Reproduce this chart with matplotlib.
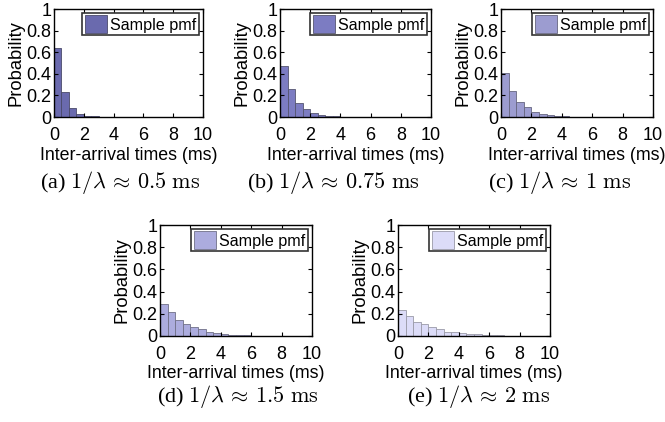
import numpy as np
import matplotlib
matplotlib.use('Agg')
import matplotlib.pyplot as plt

plt.rcParams['font.family'] = 'Liberation Sans'
plt.rcParams['mathtext.fontset'] = 'cm'

# Sample pmf values per 0.5 ms bin
bin_width = 0.5
pmf_a = [0.64, 0.23, 0.08, 0.03, 0.012, 0.005]
pmf_b = [0.47, 0.26, 0.13, 0.07, 0.04, 0.02, 0.01, 0.005]
pmf_c = [0.41, 0.24, 0.14, 0.09, 0.05, 0.03, 0.015, 0.01, 0.005, 0.003]
pmf_d = [0.29, 0.22, 0.14, 0.11, 0.08, 0.06, 0.04, 0.025, 0.02, 0.01,
         0.007, 0.005, 0.003]
pmf_e = [0.23, 0.18, 0.13, 0.11, 0.08, 0.06, 0.04, 0.035, 0.025, 0.02,
         0.015, 0.01, 0.007, 0.005]

captions = ['(a) $1/\\lambda \\,\\approx\\, 0.5\\ \\mathrm{ms}$',
            '(b) $1/\\lambda \\,\\approx\\, 0.75\\ \\mathrm{ms}$',
            '(c) $1/\\lambda \\,\\approx\\, 1\\ \\mathrm{ms}$',
            '(d) $1/\\lambda \\,\\approx\\, 1.5\\ \\mathrm{ms}$',
            '(e) $1/\\lambda \\,\\approx\\, 2\\ \\mathrm{ms}$']
colors = ['#6a6aae', '#7c7cc2', '#9c9cd0', '#acacde', '#dcdcf8']
edges = ['#4a4a6a', '#555570', '#666680', '#707088', '#9a9aa8']

# axes boxes in pixels: left, right, top, bottom
W, H = 665, 422
boxes = [(54, 203, 9, 117), (280, 431, 9, 117), (501, 653, 9, 117),
         (160, 312, 225, 336), (398, 550, 225, 336)]
# caption centres in pixels
cap_pos = [(120, 183), (333, 183), (560, 183), (238, 396), (479, 396)]

fig = plt.figure(figsize=(W / 100, H / 100), dpi=100)

for pmf, cap, col, ec, (l, r, t, b), (cx, cy) in zip(
        [pmf_a, pmf_b, pmf_c, pmf_d, pmf_e], captions, colors, edges,
        boxes, cap_pos):
    ax = fig.add_axes([l / W, 1 - b / H, (r - l) / W, (b - t) / H])
    x = np.arange(len(pmf)) * bin_width
    ax.bar(x, pmf, width=bin_width, align='edge', color=col,
           edgecolor=ec, linewidth=0.6, label='Sample pmf')
    ax.set_xlim(0, 10)
    ax.set_ylim(0, 1)
    ax.set_xticks([0, 2, 4, 6, 8, 10])
    ax.set_yticks([0, 0.2, 0.4, 0.6, 0.8, 1])
    ax.set_yticklabels(['0', '0.2', '0.4', '0.6', '0.8', '1'])
    ax.tick_params(direction='in', top=True, right=True, labelsize=13,
                   length=3, width=0.8)
    ax.tick_params(axis='x', pad=7)
    ax.tick_params(axis='y', pad=2)
    for s in ax.spines.values():
        s.set_linewidth(1.0)
    ax.set_xlabel('Inter-arrival times (ms)', fontsize=12.8, labelpad=2)
    ax.set_ylabel('Probability', fontsize=13.2, labelpad=1)
    leg = ax.legend(loc='upper right', fontsize=11.6, fancybox=False,
                    framealpha=1, edgecolor='#333333', handlelength=1.4,
                    handleheight=1.3, borderpad=0.15, borderaxespad=0.25,
                    handletextpad=0.2)
    leg.get_frame().set_linewidth(1.2)
    fig.text(cx / W, 1 - cy / H, cap, ha='center', va='center',
             fontsize=16, family='Liberation Serif')

fig.savefig('out.png', dpi=100)
